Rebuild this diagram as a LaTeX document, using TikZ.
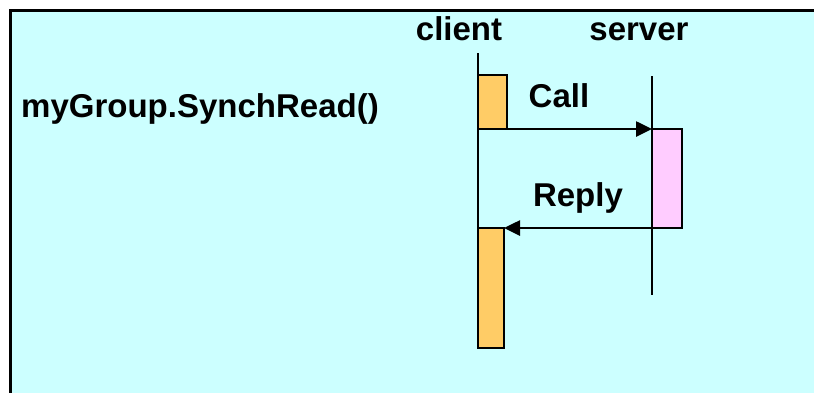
\documentclass[tikz,border=0pt]{standalone}
\usepackage{fontspec}
\setmainfont{Liberation Sans}
\usetikzlibrary{arrows.meta}
\definecolor{bgcyan}{HTML}{CCFFFF}
\definecolor{actorange}{HTML}{FFCC66}
\definecolor{actpink}{HTML}{FFCCFF}
\tikzset{
  lbl/.style={font=\fontsize{33}{38}\selectfont\bfseries, anchor=base, inner sep=0pt},
  actbox/.style={draw=black, line width=2.6pt, anchor=north west, inner sep=0pt, outer sep=0pt},
  lifeline/.style={line width=2.6pt},
  msg/.style={line width=2.6pt, -{Triangle[length=16pt,width=15pt]}}
}
\begin{document}
\begin{tikzpicture}[x=1pt,y=-1pt]
\useasboundingbox (0,0) rectangle (814,392);
% frame
\fill[bgcyan] (10,10) rectangle (820,400);
\draw[line width=3.4pt] (10.5,400) -- (10.5,10.5) -- (820,10.5);
% labels
\node[lbl] (client) at (459,40) {client};
\node[lbl] (server) at (639,40) {server};
\node[lbl] (call) at (559,107) {Call};
\node[lbl] (reply) at (578,206) {Reply};
\node[lbl] (method) at (200,117) {myGroup.SynchRead()};
% lifelines
\coordinate (ct) at (478,53);
\coordinate (cb) at (478,340);
\coordinate (st) at (652,76);
\coordinate (sb) at (652,295);
\draw[lifeline] (ct) -- (cb);
\draw[lifeline] (st) -- (sb);
% activation boxes
\node[actbox, fill=actorange, minimum width=29pt, minimum height=54pt] (ca1) at (478,75) {};
\node[actbox, fill=actpink, minimum width=30pt, minimum height=99pt] (sa) at (652,129) {};
\node[actbox, fill=actorange, minimum width=26pt, minimum height=120pt] (ca2) at (478,228) {};
% messages
\draw[msg] (ca1.south west) -- (sa.north west);
\draw[msg] (sa.south west) -- (ca2.north east);
\end{tikzpicture}
\end{document}
